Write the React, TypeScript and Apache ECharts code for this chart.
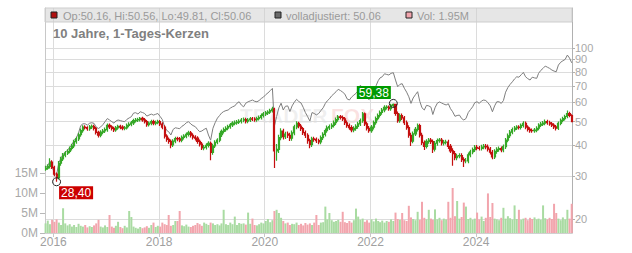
import React, { useEffect, useRef } from 'react';
import * as echarts from 'echarts';

// Semi-monthly sampling: Nov 2015 .. Oct 2025 (240 periods)
const startYear = 2015;
const startMonth = 10; // November (0-based)
const periodDays = [8, 23];

const firstOpen = 32.0;

const closes = [
  32.3, 32.8, 34.2, 32.5, 30.5, 29.5, 33.8, 35.2, 36.5, 37.2,
  37.8, 38.9, 39.8, 41.4, 42.5, 44.2, 46.0, 47.5, 47.3, 46.8,
  47.6, 47.8, 46.9, 45.2, 44.0, 45.3, 45.8, 46.4, 48.3, 47.6,
  46.9, 46.3, 47.2, 47.8, 47.5, 47.0, 47.2, 48.3, 48.8, 49.4,
  50.5, 50.8, 51.0, 51.6, 50.9, 50.0, 48.6, 49.3, 50.0, 49.3,
  49.6, 50.0, 48.9, 47.5, 43.6, 42.3, 41.5, 40.2, 41.6, 42.6,
  42.5, 42.0, 43.1, 43.6, 44.4, 45.0, 44.0, 43.2, 42.8, 41.5,
  40.5, 39.1, 39.3, 40.0, 40.8, 37.4, 39.8, 41.2, 42.0, 44.2,
  45.6, 46.4, 47.0, 47.7, 48.5, 49.3, 49.5, 49.8, 50.2, 50.7,
  51.0, 50.2, 50.8, 51.3, 51.2, 51.0, 51.5, 52.0, 53.0, 53.8,
  54.3, 54.7, 55.5, 56.3, 38.0, 38.5, 43.0, 45.8, 43.4, 44.5,
  44.0, 42.8, 45.0, 47.6, 49.2, 48.0, 46.8, 45.1, 44.0, 41.8,
  40.3, 42.5, 42.3, 41.8, 41.3, 43.0, 44.4, 46.0, 47.2, 47.7,
  48.3, 49.5, 51.0, 52.3, 52.0, 51.3, 49.5, 48.2, 47.3, 46.3,
  46.9, 47.8, 49.0, 50.5, 53.8, 49.0, 47.0, 46.0, 47.5, 49.6,
  51.5, 53.0, 54.5, 55.8, 57.2, 57.3, 56.5, 58.3, 58.8, 54.0,
  50.5, 53.0, 51.8, 49.5, 47.3, 44.0, 41.6, 44.6, 46.5, 48.2,
  44.0, 41.0, 39.6, 41.5, 42.0, 41.4, 38.6, 40.8, 41.8, 42.0,
  40.9, 41.2, 41.3, 39.6, 38.0, 37.0, 35.6, 36.2, 36.3, 35.0,
  34.6, 34.6, 36.6, 37.6, 38.4, 39.3, 39.0, 38.9, 39.4, 39.6,
  39.4, 38.6, 37.5, 35.9, 37.8, 38.5, 38.8, 38.3, 39.5, 42.0,
  43.8, 45.3, 46.4, 47.1, 47.5, 47.4, 48.3, 49.2, 47.5, 46.5,
  46.0, 45.9, 46.2, 47.0, 48.4, 48.9, 49.3, 50.0, 49.5, 49.0,
  48.4, 47.6, 47.0, 49.2, 50.6, 51.5, 52.5, 54.0, 53.0, 50.06,
];

const highs = [
  33.0, 33.5, 35.4, 34.8, 33.0, 31.0, 34.5, 35.9, 37.2, 37.9,
  38.6, 39.6, 40.6, 42.2, 43.4, 45.1, 46.9, 48.4, 48.3, 47.9,
  48.5, 48.7, 48.6, 47.6, 45.9, 46.1, 46.7, 47.3, 49.2, 49.1,
  48.4, 47.7, 48.0, 48.6, 48.6, 48.3, 48.0, 49.1, 49.7, 50.3,
  51.4, 51.7, 51.9, 52.3, 52.4, 51.8, 50.8, 50.1, 50.9, 50.9,
  50.5, 50.9, 50.8, 49.7, 48.3, 44.4, 43.1, 42.3, 42.4, 43.4,
  43.4, 43.3, 43.9, 44.4, 45.2, 45.9, 45.8, 44.8, 44.0, 43.6,
  42.3, 41.3, 40.1, 40.8, 41.6, 41.5, 40.6, 42.0, 42.8, 45.0,
  46.5, 47.3, 47.9, 48.6, 49.4, 50.2, 50.5, 50.8, 51.2, 51.7,
  52.0, 51.9, 51.7, 52.2, 52.2, 52.1, 52.4, 53.0, 54.0, 54.8,
  55.3, 55.7, 56.5, 57.5, 57.0, 40.5, 44.2, 47.0, 46.8, 45.5,
  45.6, 45.0, 46.0, 48.6, 50.2, 50.0, 48.9, 47.6, 46.0, 44.8,
  42.6, 43.4, 43.4, 43.1, 42.6, 43.9, 45.3, 46.9, 48.2, 48.7,
  49.3, 50.5, 52.0, 53.2, 53.3, 53.0, 52.3, 50.5, 49.2, 48.3,
  47.9, 48.8, 50.0, 51.5, 54.8, 54.5, 50.0, 48.0, 48.5, 50.6,
  52.5, 54.0, 55.6, 56.9, 58.3, 58.4, 58.2, 59.2, 59.38, 59.2,
  55.0, 54.0, 54.0, 52.8, 50.5, 48.3, 45.0, 45.6, 47.5, 49.2,
  49.0, 45.0, 41.9, 42.4, 42.9, 42.9, 42.3, 41.7, 42.7, 42.9,
  42.9, 42.1, 42.2, 42.2, 40.5, 38.9, 37.9, 37.0, 37.1, 37.1,
  35.8, 35.5, 37.4, 38.4, 39.2, 40.1, 40.1, 39.8, 40.2, 40.5,
  40.5, 40.3, 39.4, 38.3, 38.6, 39.3, 39.6, 39.6, 40.3, 42.9,
  44.7, 46.2, 47.3, 48.0, 48.4, 48.4, 49.2, 50.2, 50.1, 48.4,
  47.4, 46.9, 47.1, 47.9, 49.3, 49.8, 50.3, 51.0, 50.9, 50.4,
  49.9, 49.3, 48.5, 50.1, 51.5, 52.4, 53.4, 55.6, 54.9, 53.6,
];

const lows = [
  31.5, 31.8, 32.2, 32.0, 29.9, 28.4, 29.0, 33.0, 34.5, 35.8,
  36.5, 37.1, 38.1, 39.0, 40.6, 41.7, 43.4, 45.1, 46.4, 45.9,
  45.9, 46.7, 46.0, 44.3, 43.1, 43.2, 44.4, 44.9, 45.5, 46.7,
  46.0, 45.4, 45.5, 46.3, 46.6, 46.1, 46.1, 46.4, 47.4, 47.9,
  48.5, 49.6, 49.9, 50.1, 50.0, 49.1, 47.7, 47.8, 48.4, 48.4,
  48.4, 48.8, 48.0, 46.6, 42.7, 41.4, 40.6, 38.9, 39.4, 40.8,
  41.6, 41.2, 41.2, 42.3, 42.8, 43.5, 43.1, 42.3, 41.9, 40.6,
  39.6, 38.3, 38.2, 38.5, 39.2, 34.8, 36.6, 39.0, 40.4, 41.2,
  43.3, 44.7, 45.5, 46.1, 46.8, 47.6, 48.4, 48.6, 48.9, 49.2,
  49.7, 49.2, 49.3, 49.8, 50.3, 50.0, 50.0, 50.5, 51.0, 52.0,
  52.8, 53.3, 53.7, 54.5, 32.3, 34.6, 37.2, 42.0, 42.3, 42.5,
  42.9, 41.7, 41.8, 44.0, 46.6, 47.0, 45.8, 44.1, 42.9, 40.6,
  38.9, 39.4, 41.4, 40.9, 40.4, 40.4, 42.1, 43.5, 45.1, 46.2,
  46.7, 47.3, 48.5, 50.0, 51.0, 50.3, 48.5, 47.2, 46.3, 45.3,
  45.3, 45.9, 46.8, 48.0, 49.5, 48.0, 46.0, 45.0, 45.0, 46.5,
  48.6, 50.5, 52.0, 53.4, 54.7, 56.1, 55.4, 55.4, 57.1, 52.9,
  49.5, 49.5, 50.8, 48.5, 46.3, 43.0, 39.8, 40.8, 43.7, 45.6,
  43.1, 40.1, 38.3, 38.8, 40.6, 40.5, 37.2, 37.8, 39.9, 41.0,
  40.0, 40.0, 40.3, 38.7, 37.2, 33.0, 34.8, 34.8, 35.4, 34.2,
  32.6, 33.8, 33.8, 35.8, 36.8, 37.6, 38.2, 38.1, 38.1, 38.6,
  38.6, 37.8, 36.7, 35.1, 35.2, 37.0, 37.7, 37.5, 37.5, 38.7,
  41.2, 42.9, 44.4, 45.5, 46.2, 46.5, 46.5, 47.3, 46.6, 45.6,
  45.1, 45.0, 45.0, 45.3, 46.1, 47.5, 48.0, 48.4, 48.6, 48.1,
  47.5, 46.7, 46.0, 46.2, 48.4, 49.7, 50.6, 51.6, 52.1, 49.8,
];

const adjusted = [
  32.5, 33.0, 34.4, 32.7, 30.8, 30.3, 34.0, 35.5, 36.8, 37.5,
  38.2, 39.3, 40.2, 41.9, 43.0, 45.0, 48.2, 49.0, 49.0, 48.4,
  49.3, 49.5, 49.2, 47.5, 46.9, 47.6, 48.6, 50.0, 51.5, 50.8,
  50.0, 49.3, 50.3, 50.8, 50.5, 50.2, 50.0, 51.1, 51.8, 52.4,
  54.2, 54.4, 53.7, 54.9, 54.5, 54.0, 52.7, 53.2, 53.7, 53.2,
  53.6, 54.0, 52.5, 51.0, 47.7, 46.0, 45.5, 44.1, 46.5, 47.2,
  47.0, 46.8, 47.9, 48.5, 49.5, 50.0, 48.9, 48.2, 47.7, 46.5,
  45.5, 45.8, 46.5, 47.0, 44.1, 42.0, 47.0, 49.5, 51.7, 53.0,
  54.2, 55.0, 55.5, 55.8, 56.8, 57.5, 58.0, 59.5, 60.3, 58.5,
  57.5, 59.5, 60.3, 60.8, 61.3, 60.6, 60.3, 61.0, 62.2, 63.0,
  64.5, 65.5, 67.0, 68.4, 48.0, 52.5, 57.0, 59.5, 55.8, 57.8,
  58.0, 55.0, 58.0, 60.0, 61.7, 60.5, 59.6, 57.2, 54.5, 52.5,
  50.3, 54.5, 54.0, 53.3, 54.0, 55.5, 57.0, 59.4, 60.8, 62.0,
  63.8, 65.0, 66.3, 67.8, 67.0, 66.0, 64.8, 62.0, 61.3, 63.0,
  64.2, 65.3, 67.0, 70.5, 68.5, 65.3, 62.5, 61.5, 64.0, 67.5,
  70.0, 73.5, 75.5, 76.3, 78.5, 78.0, 77.6, 78.8, 79.3, 74.0,
  69.5, 71.0, 71.5, 68.5, 66.0, 63.2, 59.4, 62.5, 64.5, 66.3,
  60.5, 57.0, 55.8, 58.3, 58.0, 57.3, 53.5, 57.0, 59.5, 60.2,
  59.6, 59.0, 58.5, 59.2, 56.5, 54.9, 52.6, 53.0, 53.2, 51.5,
  50.8, 51.5, 54.5, 56.0, 57.5, 59.8, 60.3, 59.4, 60.8, 61.3,
  61.0, 59.8, 58.0, 54.9, 58.0, 60.3, 60.3, 59.4, 61.0, 66.0,
  69.0, 71.0, 72.8, 74.8, 76.3, 76.0, 77.8, 79.5, 76.3, 75.0,
  74.0, 76.0, 75.5, 75.2, 78.8, 81.0, 82.6, 84.4, 83.5, 82.6,
  81.3, 80.5, 80.0, 85.2, 87.5, 88.7, 89.9, 93.6, 91.0, 87.0,
];

const volumesM = [
  2.4, 3.1, 2.2, 3.3, 2.8, 3.4, 2.6, 2.0, 6.2, 2.4,
  1.9, 2.2, 1.6, 2.0, 1.5, 2.3, 1.8, 1.6, 2.0, 1.4,
  1.7, 1.5, 1.9, 2.4, 3.3, 1.6, 1.4, 1.9, 1.5, 4.5,
  1.6, 1.3, 1.8, 2.8, 1.5, 1.2, 1.8, 1.4, 5.5, 4.0,
  1.6, 1.3, 1.1, 1.5, 1.2, 1.4, 1.7, 1.3, 2.0, 2.6,
  1.5, 1.8, 1.6, 2.6, 2.2, 2.0, 4.5, 1.8, 2.0, 3.0,
  3.0, 5.5, 1.9, 1.7, 2.1, 1.6, 1.5, 1.8, 2.0, 2.5,
  2.2, 1.8, 2.6, 2.3, 2.0, 2.6, 2.4, 2.0, 2.2, 1.9,
  2.4, 5.8, 2.2, 2.0, 2.6, 2.2, 4.1, 2.0, 2.5, 2.3,
  2.4, 2.1, 5.1, 2.3, 3.6, 2.0, 1.9, 2.2, 2.6, 2.4,
  3.0, 3.5, 2.7, 3.2, 5.5, 5.8, 5.0, 3.8, 3.0, 2.4,
  2.6, 2.0, 2.3, 2.2, 2.6, 2.0, 2.3, 1.9, 2.5, 2.1,
  2.4, 2.0, 2.6, 4.5, 2.0, 2.6, 2.7, 6.6, 3.4, 5.0,
  3.2, 2.8, 3.0, 3.3, 2.8, 5.3, 2.7, 2.5, 3.0, 2.6,
  3.2, 6.1, 4.1, 3.3, 3.6, 2.8, 3.2, 2.6, 3.4, 2.9,
  3.6, 3.0, 2.7, 3.1, 2.6, 3.0, 2.8, 3.4, 3.0, 5.1,
  3.5, 3.3, 5.0, 3.2, 3.0, 6.8, 3.9, 3.5, 3.2, 5.3,
  3.3, 7.8, 3.8, 3.4, 5.8, 3.6, 3.3, 5.9, 3.4, 3.8,
  3.2, 3.6, 3.4, 7.8, 3.8, 11.25, 4.2, 8.0, 3.6, 4.0,
  7.6, 6.6, 3.5, 3.8, 3.3, 3.6, 5.1, 3.4, 4.1, 3.0,
  3.8, 9.9, 4.0, 7.5, 3.6, 3.4, 3.2, 3.8, 6.3, 3.6,
  4.2, 3.7, 3.4, 6.9, 3.5, 5.8, 3.3, 3.6, 3.8, 3.2,
  3.8, 3.5, 3.9, 3.4, 3.6, 3.3, 6.9, 3.7, 3.4, 3.8,
  3.5, 7.3, 5.0, 3.6, 3.2, 3.9, 3.4, 5.8, 3.6, 7.3,
];

const titleText = '10 Jahre, 1-Tages-Kerzen';
const legendOHLC = 'Op:50.16, Hi:50.56, Lo:49.81, Cl:50.06';
const legendAdj = 'volladjustiert: 50.06';
const legendVol = 'Vol: 1.95M';
const priceTicks = [20, 30, 40, 50, 60, 70, 80, 90, 100];
const volumeTicksM = [0, 5, 10, 15];
const yearTicks = [2016, 2018, 2020, 2022, 2024];

const UP = '#36a828';
const DOWN = '#c40f0f';
const VOL_UP = '#a9dba2';
const VOL_DOWN = '#f2a5ad';
const FONT = '"Liberation Sans", Arial, sans-serif';

export default function App() {
  const ref = useRef<HTMLDivElement>(null);

  useEffect(() => {
    if (!ref.current) return;
    const chart = echarts.init(ref.current, null, { renderer: 'svg' });

    const dates = closes.map((_, i) => {
      const m = startMonth + Math.floor(i / 2);
      return new Date(startYear + Math.floor(m / 12), m % 12, periodDays[i % 2]).getTime();
    });
    const opens = closes.map((c, i) => (i === 0 ? firstOpen : closes[i - 1]));
    const candles = closes.map((c, i) => [dates[i], opens[i], c, lows[i], highs[i]]);
    const volData = volumesM.map((v, i) => ({
      value: [dates[i], v * 1e6],
      itemStyle: { color: closes[i] >= opens[i] ? VOL_UP : VOL_DOWN },
    }));
    const adjData = adjusted.map((v, i) => [dates[i], v]);
    const yearStamps = yearTicks.map((y) => new Date(y, 0, 1).getTime());

    const fmt = (v: number) => v.toFixed(2).replace('.', ',');

    const option: any = {
      animation: false,
      textStyle: { fontFamily: FONT },
      grid: { left: 45, right: 60, top: 8, bottom: 20, show: false },
      xAxis: {
        type: 'value',
        min: new Date(2015, 10, 4).getTime(),
        max: new Date(2025, 9, 25).getTime(),
        axisLine: { show: true, lineStyle: { color: '#d0d0d0' } },
        axisTick: {
          show: true,
          length: 4,
          lineStyle: { color: '#c8c8c8' },
          customValues: yearStamps,
        },
        axisLabel: {
          customValues: yearStamps,
          formatter: (v: number) => String(new Date(v).getFullYear()),
          color: '#a0a0a0',
          fontSize: 12,
          margin: 3,
          fontFamily: FONT,
        },
        splitLine: { show: true, lineStyle: { color: '#dcdcdc' } },
      },
      yAxis: [
        {
          type: 'log',
          position: 'right',
          min: 17.53,
          max: 145.8,
          axisLine: { show: true, lineStyle: { color: '#b0b0b0' } },
          axisTick: { show: true, length: 3, customValues: priceTicks, lineStyle: { color: '#b0b0b0' } },
          axisLabel: { show: false, customValues: priceTicks },
          splitLine: { show: true, lineStyle: { color: '#dcdcdc' } },
        },
        {
          type: 'value',
          position: 'left',
          min: 0,
          max: 56.25e6,
          axisLine: { show: true, lineStyle: { color: '#c8c8c8' } },
          axisTick: { show: true, length: 5, customValues: volumeTicksM.map((v) => v * 1e6), lineStyle: { color: '#b8b8b8' } },
          axisLabel: {
            customValues: volumeTicksM.map((v) => v * 1e6),
            formatter: (v: number) => `${Math.round(v / 1e6)}M`,
            color: '#a8a8a8',
            fontSize: 12,
            margin: 7,
            fontFamily: FONT,
          },
          splitLine: { show: false },
        },
      ],
      graphic: [
        {
          type: 'text', z: -5, x: 240, y: 115,
          style: { text: 'TRADER', fill: 'rgba(185,185,185,0.22)', font: `bold 21px ${FONT}`, verticalAlign: 'middle' },
        },
        {
          type: 'text', z: -5, x: 331, y: 115,
          style: { text: 'FOX', fill: 'rgba(235,120,120,0.22)', font: `bold 21px ${FONT}`, verticalAlign: 'middle' },
        },
        {
          type: 'rect', z: 100,
          shape: { x: 45, y: 8, width: 527, height: 14 },
          style: { fill: 'rgba(205,205,205,0.5)', stroke: '#cdcdcd', lineWidth: 1 },
        },
        { type: 'rect', z: 101, shape: { x: 51, y: 12, width: 6, height: 6 }, style: { fill: '#b01010', stroke: '#222', lineWidth: 1 } },
        { type: 'text', z: 101, x: 63, y: 15.5, style: { text: legendOHLC, fill: '#9a9a9a', font: `11px ${FONT}`, verticalAlign: 'middle' } },
        { type: 'rect', z: 101, shape: { x: 275, y: 12, width: 6, height: 6 }, style: { fill: '#6a6a6a', stroke: '#222', lineWidth: 1 } },
        { type: 'text', z: 101, x: 286, y: 15.5, style: { text: legendAdj, fill: '#9a9a9a', font: `11px ${FONT}`, verticalAlign: 'middle' } },
        { type: 'rect', z: 101, shape: { x: 406, y: 12, width: 6, height: 6 }, style: { fill: VOL_DOWN, stroke: '#222', lineWidth: 1 } },
        { type: 'text', z: 101, x: 417, y: 15.5, style: { text: legendVol, fill: '#9a9a9a', font: `11px ${FONT}`, verticalAlign: 'middle' } },
        { type: 'text', z: 101, x: 53, y: 33.5, style: { text: titleText, fill: '#808080', font: `bold 13px ${FONT}`, verticalAlign: 'middle' } },
      ],
      series: [
        {
          type: 'bar',
          yAxisIndex: 1,
          data: volData,
          barWidth: 2,
          z: 1,
        },
        {
          type: 'line',
          yAxisIndex: 0,
          data: adjData,
          showSymbol: false,
          symbol: 'none',
          lineStyle: { color: '#7e7e7e', width: 1 },
          z: 2,
          markLine: {
            silent: true,
            symbol: 'none',
            lineStyle: { color: 'rgba(0,0,0,0)', width: 0, type: 'solid' },
            label: {
              show: true,
              position: 'end',
              distance: 3,
              formatter: (p: any) => String(p.value),
              color: '#a8a8a8',
              opacity: 1,
              fontSize: 11,
              lineHeight: 10,
              fontFamily: FONT,
            },
            data: priceTicks.map((v) => ({ yAxis: v })),
          },
        },
        {
          type: 'candlestick',
          yAxisIndex: 0,
          data: candles,
          barWidth: 1.6,
          z: 3,
          itemStyle: { color: UP, color0: DOWN, borderColor: UP, borderColor0: DOWN, borderWidth: 1.2 },
          markPoint: {
            symbol: 'circle',
            symbolSize: 8,
            itemStyle: { color: 'rgba(0,0,0,0)', borderColor: '#222', borderWidth: 1 },
            data: [
              {
                type: 'min',
                valueDim: 'lowest',
                label: {
                  show: true,
                  position: [7, 9],
                  align: 'left',
                  verticalAlign: 'top',
                  formatter: (p: any) => fmt(p.value),
                  backgroundColor: '#cc0000',
                  color: '#fff',
                  fontSize: 12,
                  padding: [1, 2, 0, 2],
                  fontFamily: FONT,
                },
              },
              {
                type: 'max',
                valueDim: 'highest',
                label: {
                  show: true,
                  position: [2, 0],
                  align: 'right',
                  verticalAlign: 'bottom',
                  formatter: (p: any) => fmt(p.value),
                  backgroundColor: '#009a00',
                  color: '#fff',
                  fontSize: 12,
                  padding: [1, 2, 0, 2],
                  fontFamily: FONT,
                },
              },
            ],
          },
        },
      ],
    };

    chart.setOption(option);
    return () => chart.dispose();
  }, []);

  return <div ref={ref} style={{ position: 'absolute', left: 0, top: 0, width: 632, height: 253 }} />;
}
